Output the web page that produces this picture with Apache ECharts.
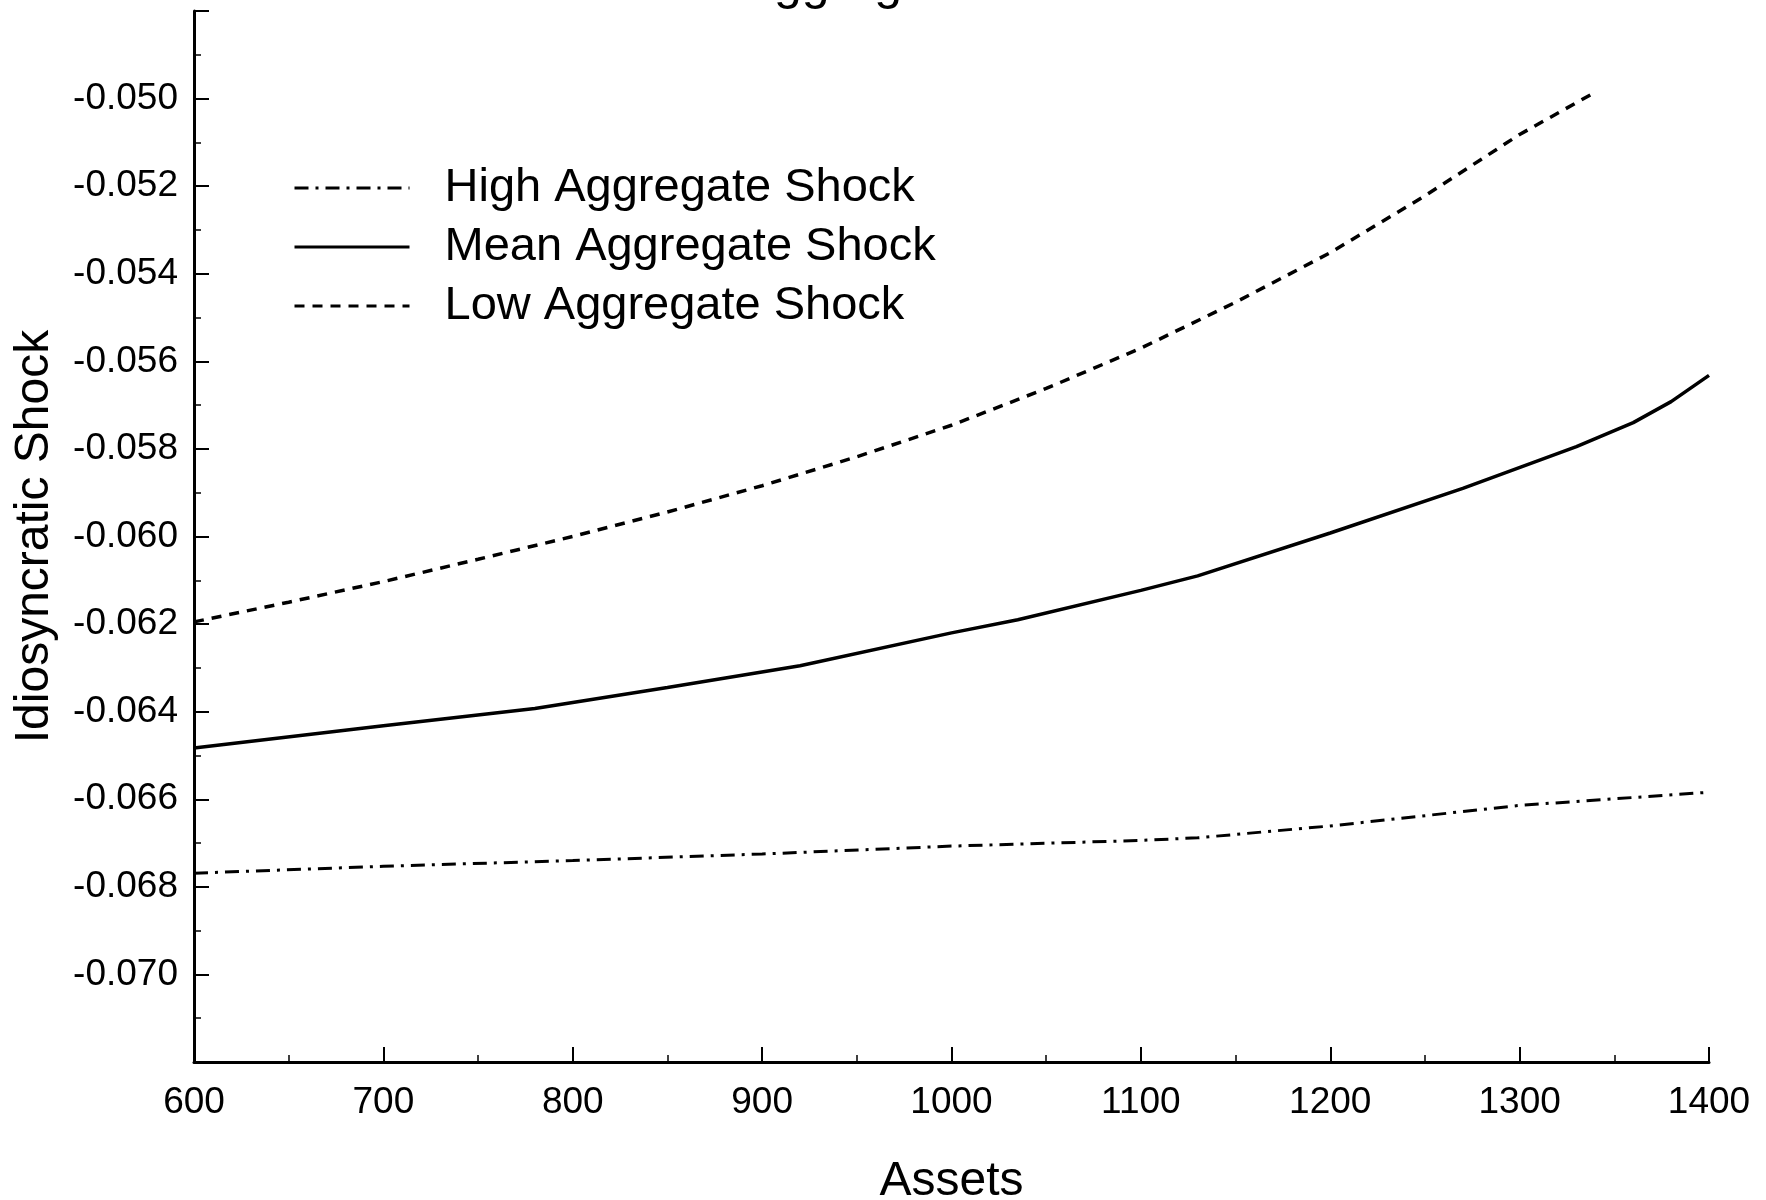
<!DOCTYPE html>
<html><head><meta charset="utf-8">
<script src="https://cdn.jsdelivr.net/npm/echarts@6/dist/echarts.min.js"></script>
<style>html,body{margin:0;padding:0;background:#fff}#c{width:1766px;height:1200px}</style>
</head><body><div id="c"></div>
<script>
const seriesNames = ['High Aggregate Shock', 'Mean Aggregate Shock', 'Low Aggregate Shock'];
const highX = [600, 700, 800, 900, 1000, 1100, 1130, 1200, 1300, 1400];
const highY = [-0.06769, -0.06753, -0.06740, -0.06725, -0.06707, -0.06694, -0.06688, -0.06661, -0.06614, -0.06584];
const meanX = [600, 700, 780, 850, 920, 1000, 1035, 1100, 1130, 1200, 1270, 1330, 1360, 1380, 1400];
const meanY = [-0.06483, -0.06432, -0.06393, -0.06345, -0.06295, -0.06220, -0.06190, -0.06123, -0.06090, -0.05992, -0.05890, -0.05795, -0.05740, -0.05692, -0.05632];
const lowX = [600, 650, 700, 750, 800, 850, 900, 950, 1000, 1050, 1100, 1150, 1200, 1250, 1300, 1338];
const lowY = [-0.06195, -0.06150, -0.06103, -0.06052, -0.06000, -0.05944, -0.05884, -0.05818, -0.05746, -0.05662, -0.05570, -0.05465, -0.05352, -0.05222, -0.05082, -0.04990];
const titleText = 'Aggregate Shocks';
const xName = 'Assets';
const yName = 'Idiosyncratic Shock';

const font = 'Liberation Sans, Arial, sans-serif';
const pair = (xs, ys) => xs.map((x, i) => [x, ys[i]]);
const chart = echarts.init(document.getElementById('c'), null, {renderer: 'canvas'});
chart.setOption({
  backgroundColor: '#fff',
  animation: false,
  title: {text: titleText, left: 940, top: -45, textAlign: 'center',
    textStyle: {fontFamily: font, fontSize: 50, fontWeight: 'normal', color: '#000', lineHeight: 50}},
  grid: {left: 194, right: 57, top: 11, bottom: 138, containLabel: false, outerBoundsMode: 'none'},
  legend: {
    orient: 'vertical', left: 288, top: 158, itemWidth: 115, itemHeight: 14, itemGap: 9,
    itemStyle: {opacity: 0},
    lineStyle: {width: 3},
    textStyle: {fontFamily: font, fontSize: 47, color: '#000', lineHeight: 50, padding: [0, 0, 0, 30]},
    data: seriesNames
  },
  xAxis: {
    type: 'value', min: 600, max: 1400, interval: 100,
    name: xName, nameLocation: 'middle', nameGap: 96,
    nameTextStyle: {fontFamily: font, fontSize: 48, color: '#000'},
    axisLine: {lineStyle: {color: '#000', width: 3}},
    axisTick: {inside: true, length: 15, lineStyle: {color: '#000', width: 2}},
    minorTick: {show: true, splitNumber: 2, length: 7, lineStyle: {color: '#000', width: 1.5}},
    axisLabel: {fontFamily: font, fontSize: 37, color: '#000', margin: 22, formatter: v => String(v)},
    splitLine: {show: false}
  },
  yAxis: {
    type: 'value', min: -0.072, max: -0.048, interval: 0.002,
    name: yName, nameLocation: 'middle', nameGap: 135,
    nameTextStyle: {fontFamily: font, fontSize: 48, color: '#000'},
    axisLine: {lineStyle: {color: '#000', width: 3}},
    axisTick: {inside: true, length: 15, lineStyle: {color: '#000', width: 2}},
    minorTick: {show: true, splitNumber: 2, length: 7, lineStyle: {color: '#000', width: 1.5}},
    axisLabel: {fontFamily: font, fontSize: 37, color: '#000', margin: 16,
      formatter: v => (Math.abs(v + 0.072) < 1e-9 || Math.abs(v + 0.048) < 1e-9) ? '' : v.toFixed(3)},
    splitLine: {show: false}
  },
  series: [
    {name: seriesNames[0], type: 'line', symbol: 'none', data: pair(highX, highY),
      lineStyle: {color: '#000', width: 3, type: [14, 7, 3, 7]}, itemStyle: {color: '#000'}},
    {name: seriesNames[1], type: 'line', symbol: 'none', data: pair(meanX, meanY),
      lineStyle: {color: '#000', width: 3.5}, itemStyle: {color: '#000'}},
    {name: seriesNames[2], type: 'line', symbol: 'none', data: pair(lowX, lowY),
      lineStyle: {color: '#000', width: 3.5, type: [10, 8]}, itemStyle: {color: '#000'}}
  ]
});
</script></body></html>
